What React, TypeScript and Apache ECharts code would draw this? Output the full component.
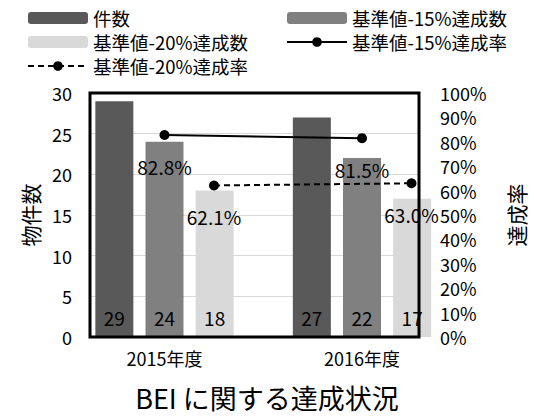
import React, { useEffect, useRef } from "react";
import * as echarts from "echarts";

const categories = ["2015年度", "2016年度"];
const countAll = [29, 27];
const count15 = [24, 22];
const count20 = [18, 17];
const rate15 = [0.828, 0.815];
const rate20 = [0.621, 0.63];
const leftTicks = { min: 0, max: 30, interval: 5 };
const rightTicks = { min: 0, max: 1, interval: 0.1 };

const FONT = "'Noto Sans CJK JP', 'Noto Sans', sans-serif";

export default function App() {
  const ref = useRef<HTMLDivElement>(null);
  useEffect(() => {
    if (!ref.current) return;
    const chart = echarts.init(ref.current, null, { renderer: "svg" });
    const TOP = 93;
    const H = 244;
    const bandW = 197.5;
    const barLeft = 65.75;
    const pct = (v: number) => (v * 100).toFixed(1) + "%";
    const legendText = { fontFamily: FONT, fontSize: 18.5, color: "#000", lineHeight: 24 };
    const option: any = {
      animation: false,
      backgroundColor: "#fff",
      textStyle: { fontFamily: FONT, color: "#000" },
      title: {
        text: "BEI に関する達成状況",
        left: "center",
        top: 379,
        textStyle: { fontFamily: FONT, fontSize: 27, fontWeight: "normal", color: "#000" },
      },
      legend: [
        {
          orient: "vertical",
          left: 22,
          top: 1,
          itemWidth: 60,
          itemHeight: 12,
          itemGap: 0,
          data: ["件数", "基準値-20%達成数", "基準値-20%達成率"],
          textStyle: legendText,
        },
        {
          orient: "vertical",
          left: 281,
          top: 1,
          itemWidth: 60,
          itemHeight: 12,
          itemGap: 0,
          data: ["基準値-15%達成数", "基準値-15%達成率"],
          textStyle: legendText,
        },
      ],
      grid: [
        { left: 90, width: 346, top: TOP, height: H, show: true, borderColor: "#000", borderWidth: 3, backgroundColor: "transparent", z: 10 },
        { left: barLeft, width: bandW * 2, top: TOP, height: H },
        { left: barLeft + 49.5, width: bandW * 2, top: TOP, height: H },
      ],
      xAxis: [
        { type: "category", gridIndex: 0, data: categories, show: false },
        {
          type: "category",
          gridIndex: 1,
          data: categories,
          axisLine: { show: false },
          axisTick: { show: false },
          axisLabel: { fontFamily: FONT, fontSize: 18, color: "#000", margin: 12 },
        },
        { type: "category", gridIndex: 2, data: categories, show: false },
      ],
      yAxis: [
        {
          type: "value",
          gridIndex: 0,
          ...leftTicks,
          name: "物件数",
          nameLocation: "middle",
          nameRotate: 90,
          nameGap: 50,
          nameTextStyle: { fontFamily: FONT, fontSize: 21, color: "#000" },
          axisLine: { show: false },
          axisTick: { show: false },
          axisLabel: { fontFamily: FONT, fontSize: 18, color: "#000", margin: 18 },
          splitLine: { show: true, lineStyle: { color: "#d9d9d9", width: 1 } },
        },
        {
          type: "value",
          gridIndex: 0,
          position: "right",
          ...rightTicks,
          name: "達成率",
          nameLocation: "middle",
          nameRotate: 90,
          nameGap: 86,
          nameTextStyle: { fontFamily: FONT, fontSize: 21, color: "#000" },
          axisLine: { show: false },
          axisTick: { show: false },
          axisLabel: {
            fontFamily: FONT,
            fontSize: 18,
            color: "#000",
            margin: 21,
            formatter: (v: number) => Math.round(v * 100) + "%",
          },
          splitLine: { show: false },
        },
        { type: "value", gridIndex: 1, ...leftTicks, show: false, splitLine: { show: false } },
        { type: "value", gridIndex: 1, ...rightTicks, show: false, splitLine: { show: false } },
        { type: "value", gridIndex: 2, ...rightTicks, show: false, splitLine: { show: false } },
      ],
      series: [
        {
          name: "件数",
          type: "bar",
          xAxisIndex: 1,
          yAxisIndex: 2,
          data: countAll,
          barWidth: 38,
          barGap: "32%",
          itemStyle: { color: "#595959" },
          label: { show: true, position: "insideBottom", distance: 10, fontFamily: FONT, fontSize: 19, color: "#000" },
        },
        {
          name: "基準値-15%達成数",
          type: "bar",
          xAxisIndex: 1,
          yAxisIndex: 2,
          data: count15,
          barWidth: 38,
          barGap: "32%",
          itemStyle: { color: "#808080" },
          label: { show: true, position: "insideBottom", distance: 10, fontFamily: FONT, fontSize: 19, color: "#000" },
        },
        {
          name: "基準値-20%達成数",
          type: "bar",
          xAxisIndex: 1,
          yAxisIndex: 2,
          data: count20,
          barWidth: 38,
          barGap: "32%",
          itemStyle: { color: "#d9d9d9" },
          label: { show: true, position: "insideBottom", distance: 10, fontFamily: FONT, fontSize: 19, color: "#000" },
        },
        {
          name: "基準値-15%達成率",
          type: "line",
          xAxisIndex: 1,
          yAxisIndex: 3,
          data: rate15,
          z: 5,
          symbol: "circle",
          symbolSize: 10,
          lineStyle: { color: "#000", width: 2 },
          itemStyle: { color: "#000" },
          label: {
            show: true,
            position: "bottom",
            distance: 17,
            fontFamily: FONT,
            fontSize: 19,
            color: "#000",
            formatter: (p: any) => pct(p.value),
          },
        },
        {
          name: "基準値-20%達成率",
          type: "line",
          xAxisIndex: 2,
          yAxisIndex: 4,
          data: rate20,
          z: 5,
          symbol: "circle",
          symbolSize: 10,
          lineStyle: { color: "#000", width: 2, type: [6, 4] },
          itemStyle: { color: "#000" },
          label: {
            show: true,
            position: "bottom",
            distance: 17,
            fontFamily: FONT,
            fontSize: 19,
            color: "#000",
            formatter: (p: any) => pct(p.value),
          },
        },
      ],
    };
    chart.setOption(option);
    return () => chart.dispose();
  }, []);
  return (
    <div
      ref={ref}
      style={{ position: "fixed", left: 0, top: 0, width: 534, height: 418 }}
    />
  );
}
